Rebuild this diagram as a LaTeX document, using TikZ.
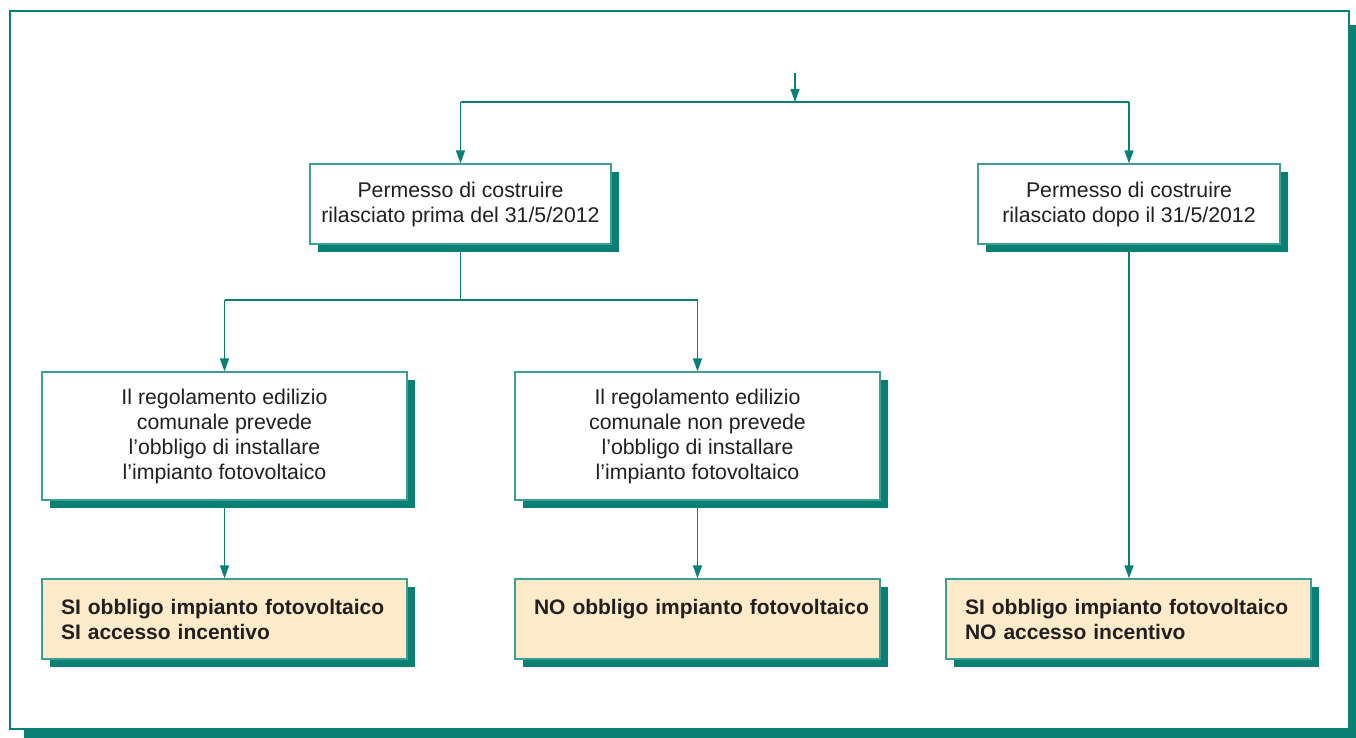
\documentclass[tikz,border=0pt]{standalone}
\usepackage{fontspec}
\setmainfont{Liberation Sans}
\usetikzlibrary{arrows.meta,shadows}
\definecolor{tl}{HTML}{0A8074}
\definecolor{tlb}{HTML}{3C9E94}
\definecolor{beige}{HTML}{FDEBCA}
\definecolor{txt}{HTML}{231F20}
\tikzset{
  ln/.style={tl, line width=1.3pt},
  arr/.style={ln, -{Triangle[length=13pt,width=9pt]}},
  boxbase/.style={draw=tlb, line width=1.2pt, inner sep=0pt,
    drop shadow={shadow xshift=8pt, shadow yshift=-8pt, fill=tl, opacity=1},
    text=txt, font=\fontsize{21.3}{25}\selectfont},
  qbox/.style={boxbase, fill=white, align=center},
  rbox/.style={boxbase, fill=beige, align=left, text width=327pt,
    inner xsep=19pt, minimum height=80pt,
    font=\fontsize{21}{25}\selectfont\bfseries}
}
\begin{document}
\begin{tikzpicture}[x=1pt,y=-1pt]
\useasboundingbox (0,0) rectangle (1356,738);
\fill[tl] (24,25) rectangle (1356,738);
\draw[tl, line width=2pt, fill=white] (10,11) rectangle (1349,729);

\node[qbox, minimum width=301pt, minimum height=80pt] (A) at (460.5,204)
  {Permesso di costruire\\rilasciato prima del 31/5/2012};
\node[qbox, minimum width=302pt, minimum height=80pt] (B) at (1129,204)
  {Permesso di costruire\\rilasciato dopo il 31/5/2012};
\node[qbox, minimum width=365pt, minimum height=128pt] (C) at (224.5,436)
  {Il regolamento edilizio\\comunale prevede\\l’obbligo di installare\\l’impianto fotovoltaico};
\node[qbox, minimum width=365pt, minimum height=128pt] (D) at (697.5,436)
  {Il regolamento edilizio\\comunale non prevede\\l’obbligo di installare\\l’impianto fotovoltaico};
\node[rbox] (E) at (224.5,619)
  {\mbox{SI obbligo impianto fotovoltaico}\\SI accesso incentivo};
\node[rbox] (F) at (697.5,619)
  {\mbox{NO obbligo impianto fotovoltaico}\\\mbox{}};
\node[rbox] (G) at (1128.5,619)
  {\mbox{SI obbligo impianto fotovoltaico}\\NO accesso incentivo};

\coordinate (top) at (795,73);
\coordinate (j1) at (795,102);
\coordinate (j2) at (460.5,300);
\draw[arr] (top) -- (j1);
\draw[ln] (A.north |- j1) -- (B.north |- j1);
\draw[arr] (A.north |- j1) -- (A.north);
\draw[arr] (B.north |- j1) -- (B.north);
\draw[ln] (A.south) -- (j2);
\draw[ln] (C.north |- j2) -- (D.north |- j2);
\draw[arr] (C.north |- j2) -- (C.north);
\draw[arr] (D.north |- j2) -- (D.north);
\draw[arr] (C.south) -- (E.north);
\draw[arr] (D.south) -- (F.north);
\draw[arr] (B.south) -- (B.south |- G.north);
\end{tikzpicture}
\end{document}
